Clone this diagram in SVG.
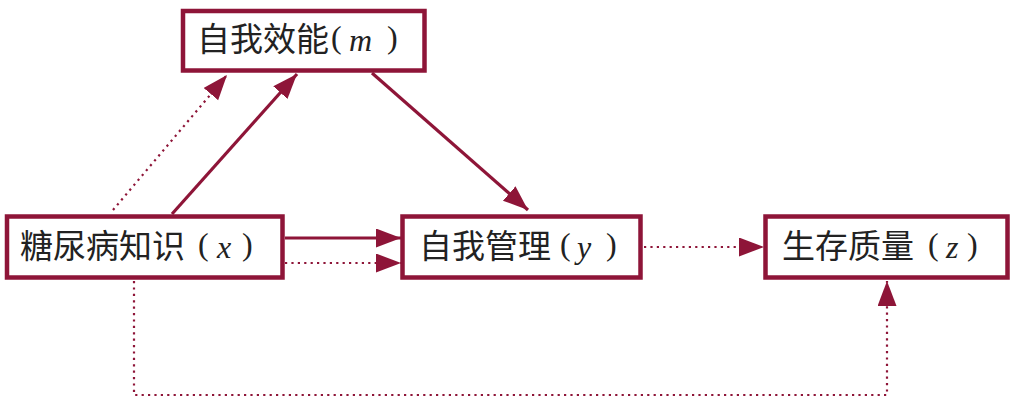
<svg xmlns="http://www.w3.org/2000/svg" width="1015" height="406" viewBox="0 0 1015 406">
<defs>
<style>
.box{fill:#fff;stroke:#8E1538;stroke-width:4.5}
.lbl{font-family:"Noto Sans CJK SC",sans-serif;font-size:33px;fill:#222}
.var{font-family:"Liberation Serif",serif;font-style:italic;font-size:32px}
.par{font-family:"Liberation Serif",serif;font-weight:normal;font-size:32px}
.solid{fill:none;stroke:#8E1538;stroke-width:3.2}
.dot{fill:none;stroke:#8E1538;stroke-width:2.2;stroke-dasharray:2.2 4.2}
</style>
<marker id="ah" markerUnits="userSpaceOnUse" markerWidth="26" markerHeight="20" refX="25" refY="9.5" orient="auto">
<path d="M0,0 L25,9.5 L0,19 z" fill="#8E1538"/>
</marker>
</defs>
<g id="connectors">
<line class="solid" x1="172" y1="214" x2="297" y2="74" marker-end="url(#ah)"/>
<line class="dot" x1="113" y1="210" x2="227" y2="75" marker-end="url(#ah)"/>
<line class="solid" x1="372" y1="73" x2="528" y2="210" marker-end="url(#ah)"/>
<line class="solid" x1="285" y1="238" x2="401" y2="238" marker-end="url(#ah)"/>
<line class="dot" x1="285" y1="263" x2="401" y2="263" marker-end="url(#ah)"/>
<line class="dot" x1="644" y1="247" x2="764" y2="247" marker-end="url(#ah)"/>
<path class="dot" d="M134,281 V395 H887 V281" marker-end="url(#ah)"/>
</g>
<g id="node-m">
<rect class="box" x="183" y="11" width="241.5" height="59.5"/>
<text class="lbl" y="51"><tspan x="197">自我效能</tspan><tspan class="par" x="331" y="48">(</tspan><tspan class="var" x="349" y="51">m</tspan><tspan class="par" x="387" y="48">)</tspan></text>
</g>
<g id="node-x">
<rect class="box" x="7" y="216.5" width="275.5" height="61"/>
<text class="lbl" y="258"><tspan x="20">糖尿病知识</tspan><tspan class="par" x="198" y="255">(</tspan><tspan class="var" x="217" y="258">x</tspan><tspan class="par" x="242" y="255">)</tspan></text>
</g>
<g id="node-y">
<rect class="box" x="402.5" y="216.5" width="238" height="61"/>
<text class="lbl" y="258"><tspan x="419">自我管理</tspan><tspan class="par" x="560" y="255">(</tspan><tspan class="var" x="577" y="258">y</tspan><tspan class="par" x="606" y="255">)</tspan></text>
</g>
<g id="node-z">
<rect class="box" x="765.5" y="216.5" width="242" height="61"/>
<text class="lbl" y="258"><tspan x="782">生存质量</tspan><tspan class="par" x="928" y="255">(</tspan><tspan class="var" x="946" y="258">z</tspan><tspan class="par" x="967" y="255">)</tspan></text>
</g>
</svg>
